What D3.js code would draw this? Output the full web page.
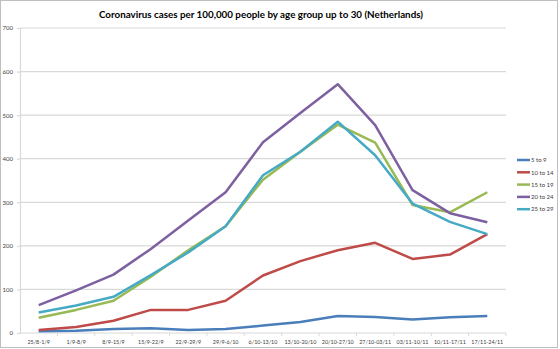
<!DOCTYPE html>
<html>
<head>
<meta charset="utf-8">
<script src="https://cdn.jsdelivr.net/npm/d3@7"></script>
<style>
  body { margin: 0; background: #fff; }
  svg { display: block; font-family: Lato, "Open Sans", sans-serif; }
</style>
</head>
<body>
<svg id="chart" width="560" height="349"></svg>
<script>
// weekly periods
var weeks = ["25/8-1/9", "1/9-8/9", "8/9-15/9", "15/9-22/9", "22/9-29/9", "29/9-6/10",
    "6/10-13/10", "13/10-20/10", "20/10-27/10", "27/10-03/11", "03/11-10/11",
    "10/11-17/11", "17/11-24/11"];
var ageGroups = ["5 to 9", "10 to 14", "15 to 19", "20 to 24", "25 to 29"];
var age5to9 = [4, 5, 9, 11, 7, 9, 17, 25, 39, 37, 31, 36, 39];
var age10to14 = [7, 14, 28, 53, 53, 74, 132, 165, 190, 207, 170, 180, 227];
var age15to19 = [35, 53, 74, 129, 190, 245, 352, 416, 478, 437, 294, 277, 323];
var age20to24 = [64, 98, 134, 193, 258, 323, 438, 505, 571, 477, 328, 275, 254];
var age25to29 = [47, 63, 83, 133, 185, 245, 362, 416, 485, 408, 297, 255, 227];
var yTicks = [0, 100, 200, 300, 400, 500, 600, 700];

var seriesValues = [age5to9, age10to14, age15to19, age20to24, age25to29];
var colors = ["#4A7EBB", "#BE4B48", "#98B954", "#7D60A0", "#46AAC5"];

var svg = d3.select("#chart");

// frame
svg.append("rect")
    .attr("x", 0.5).attr("y", 0.5)
    .attr("width", 557).attr("height", 347)
    .attr("fill", "none")
    .attr("stroke", "#bfbfbf");

svg.append("text")
    .attr("x", 261)
    .attr("y", 18)
    .attr("text-anchor", "middle")
    .attr("font-size", 9.8)
    .attr("font-weight", "bold")
    .attr("fill", "#000")
    .text("Coronavirus cases per 100,000 people by age group up to 30 (Netherlands)");

var x = d3.scaleBand()
    .domain(weeks)
    .range([20, 506]);

var y = d3.scaleLinear()
    .domain([0, 700])
    .range([333, 28]);

// gridlines
svg.append("g")
    .selectAll("line")
    .data(yTicks.slice(1))
    .enter()
    .append("line")
    .attr("x1", 20).attr("x2", 506)
    .attr("y1", d => y(d)).attr("y2", d => y(d))
    .attr("stroke", "#d9d9d9")
    .attr("stroke-width", 1.2);

// y axis
var yAxis = svg.append("g")
    .attr("transform", "translate(20,0)")
    .call(d3.axisLeft(y).tickValues(yTicks).tickSize(3).tickPadding(4));
yAxis.selectAll("path, line").attr("stroke", "#d9d9d9").attr("stroke-width", 1.2);
yAxis.selectAll("text").attr("font-size", 6).attr("fill", "#404040")
    .attr("font-family", "Lato, sans-serif");

// x axis with ticks between categories
var xAxis = svg.append("g")
    .attr("transform", "translate(0,333)");
xAxis.append("line")
    .attr("x1", 20).attr("x2", 506)
    .attr("stroke", "#d9d9d9").attr("stroke-width", 1.2);
xAxis.selectAll(".tk")
    .data(weeks)
    .enter()
    .append("line")
    .attr("x1", d => x(d) + x.bandwidth()).attr("x2", d => x(d) + x.bandwidth())
    .attr("y1", 0).attr("y2", 3)
    .attr("stroke", "#d9d9d9");
xAxis.selectAll("text")
    .data(weeks)
    .enter()
    .append("text")
    .attr("x", d => x(d) + x.bandwidth() / 2)
    .attr("y", 10.5)
    .attr("text-anchor", "middle")
    .attr("font-size", 5.4)
    .attr("fill", "#404040")
    .text(d => d);

// lines
var line = d3.line()
    .x((d, i) => x(weeks[i]) + x.bandwidth() / 2)
    .y(d => y(d));

svg.append("g")
    .selectAll("path")
    .data(seriesValues)
    .enter()
    .append("path")
    .attr("d", d => line(d))
    .attr("fill", "none")
    .attr("stroke", (d, i) => colors[i])
    .attr("stroke-width", 2.5)
    .attr("stroke-linejoin", "round");

// legend
var legend = svg.append("g")
    .attr("transform", "translate(517,160)");
var items = legend.selectAll("g")
    .data(ageGroups)
    .enter()
    .append("g")
    .attr("transform", (d, i) => `translate(0,${i * 12.3})`);
items.append("line")
    .attr("x1", 0).attr("x2", 13)
    .attr("stroke", (d, i) => colors[i])
    .attr("stroke-width", 2.5);
items.append("text")
    .attr("x", 14)
    .attr("y", 2.2)
    .attr("font-size", 6)
    .attr("fill", "#404040")
    .text(d => d);
</script>
</body>
</html>
